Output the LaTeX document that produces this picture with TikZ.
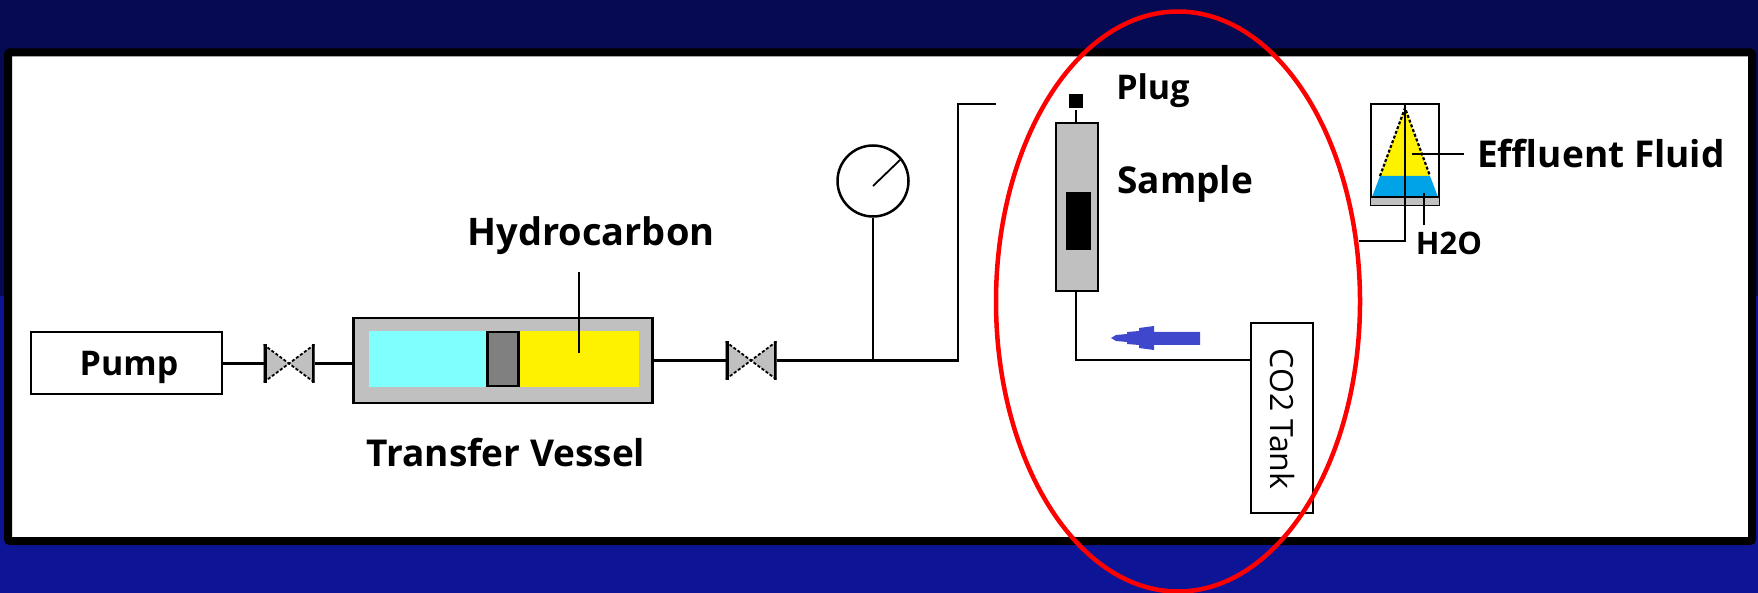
\documentclass[tikz,border=0pt]{standalone}
\usepackage{fontspec}
\setmainfont{Open Sans}
\usetikzlibrary{positioning, shapes.geometric}
\definecolor{navytop}{HTML}{050A52}
\definecolor{navybot}{HTML}{0E1496}
\definecolor{vesselgrey}{HTML}{C0C0C0}
\definecolor{watercyan}{HTML}{80FFFF}
\definecolor{oilyellow}{HTML}{FFF200}
\definecolor{h2oblue}{HTML}{00A2E8}
\definecolor{flowblue}{HTML}{3F48CC}

\begin{document}
\begin{tikzpicture}[x=1pt, y=-1pt, line width=2.5pt,
  labelnode/.style={font=\fontsize{37}{39}\selectfont\bfseries, text=black, inner sep=0pt},
  boxnode/.style={draw, fill=white, inner sep=0pt},
  greynode/.style={draw, fill=vesselgrey, inner sep=0pt},
  fillnode/.style={inner sep=0pt, outer sep=0pt},
  valvenode/.style={inner sep=0pt, outer sep=0pt, minimum width=51, minimum height=38, path picture={
    \fill[vesselgrey] (path picture bounding box.north west) -- (path picture bounding box.south east) -- (path picture bounding box.north east) -- (path picture bounding box.south west) -- cycle;
    \draw[densely dashed, line width=1.8pt] (path picture bounding box.north west) -- (path picture bounding box.south east) (path picture bounding box.north east) -- (path picture bounding box.south west);
    \draw[line width=6pt] (path picture bounding box.north west) -- (path picture bounding box.south west) (path picture bounding box.north east) -- (path picture bounding box.south east);}}]
\useasboundingbox (0,0) rectangle (1758,593);
\fill[navytop] (0,0) rectangle (1758,296);
\fill[navybot] (0,296) rectangle (1758,593);
\node[draw, fill=white, line width=8pt, rounded corners=2pt, minimum width=1744, minimum height=488.5, inner sep=0pt] at (880,296.75) (panel) {};

% pump side
\node[boxnode, minimum width=191, minimum height=62] at (126.5,363) (pump) {};
\node[labelnode, font=\fontsize{34}{36}\selectfont\bfseries] at (129,367) (pumptxt) {Pump};
\node[valvenode] at (289,363.5) (valve1) {};
\node[greynode, minimum width=299, minimum height=85] at (503,360.5) (vessel) {};
\node[fillnode, fill=watercyan, minimum width=118, minimum height=56] at (428,359) (water) {};
\node[fillnode, fill=oilyellow, minimum width=121, minimum height=56] at (578.5,359) (oil) {};
\node[draw, fill=black!50, inner sep=0pt, minimum width=31, minimum height=54] at (503,359) (piston) {};
\node[labelnode, font=\fontsize{38}{40}\selectfont\bfseries] at (591,236) (hctxt) {Hydrocarbon};
\node[labelnode] at (506,453) (tvtxt) {Transfer Vessel};
\coordinate (hctop) at (579,272);
\coordinate (hcend) at (579,353);
\draw (hctop) -- (hcend);
\draw (pump.east |- valve1) -- (valve1) -- (vessel.west |- valve1);

% line to the sample
\node[valvenode] at (751,360.5) (valve2) {};
\draw (vessel.east |- valve2) -- (valve2);
\node[draw, circle, fill=white, minimum size=71, inner sep=0pt] at (873,181) (gauge) {};
\coordinate (needleA) at (873,186);
\coordinate (needleB) at (900,160);
\draw[line width=1.8pt] (needleA) -- (needleB);
\coordinate (bendA) at (958,360.5);
\coordinate (bendB) at (958,104);
\coordinate (lineend) at (996,104);
\draw (valve2) -- (bendA) -- (bendB) -- (lineend);
\draw (gauge.south) -- (gauge.south |- valve2);

% sample column
\node[greynode, minimum width=42, minimum height=168] at (1077,207) (column) {};
\node[fill=black, inner sep=0pt, minimum width=25, minimum height=58] at (1078.5,221) (sample) {};
\node[fill=black, inner sep=0pt, minimum size=14] at (1076,101.5) (plug) {};
\draw (plug) -- (plug |- column.north);
\node[labelnode, font=\fontsize{34}{36}\selectfont\bfseries, anchor=west] at (1115,91) (plugtxt) {Plug};
\node[labelnode, anchor=west] at (1116,184) (sampletxt) {Sample};
\node[boxnode, minimum width=62, minimum height=190] at (1282,418) (tank) {};
\node[rotate=-90, font=\fontsize{32}{34}\selectfont, inner sep=0pt] at (1282,419) (tanktxt) {CO2 Tank};
\coordinate (tankin) at (1251,360);
\draw (plug |- column.south) -- (plug |- tankin) -- (tankin);
\fill[flowblue] (1200,332) -- (1154,332) -- (1154,326) -- (1139,328) -- (1139,331) -- (1127,332) -- (1127,334) -- (1116,335) -- (1111,338) -- (1116,341) -- (1127,342) -- (1127,344) -- (1139,345) -- (1139,348) -- (1154,350) -- (1154,345) -- (1200,345) -- cycle;

% effluent flask
\node[boxnode, minimum width=68, minimum height=101] at (1405,154.5) (flask) {};
\fill[vesselgrey] (1371,197) rectangle (1439,205);
\fill[oilyellow] (1405,108) -- (1380,176) -- (1430,176) -- cycle;
\fill[h2oblue] (1380,176) -- (1372,197) -- (1438,197) -- (1430,176) -- cycle;
\draw[densely dashed, line width=2.2pt] (1380,176) -- (1405,108) -- (1430,176);
\draw (1371,197) -- (1439,197);
\coordinate (outlet) at (1359,241);
\draw (flask.north) -- (flask.north |- outlet) -- (outlet);
\coordinate (efstart) at (1412,154);
\coordinate (efend) at (1464,154);
\draw (efstart) -- (efend);
\coordinate (wstart) at (1424,193);
\coordinate (wend) at (1424,225);
\draw (wstart) -- (wend);
\node[labelnode, anchor=west] at (1476,154) (eftxt) {Effluent Fluid};
\node[labelnode, font=\fontsize{31}{33}\selectfont\bfseries] at (1449,243) (wtxt) {H2O};

% red ring
\node[draw=red, ellipse, line width=4.5pt, minimum width=364, minimum height=580, inner sep=0pt] at (1178,301.5) (ring) {};
\end{tikzpicture}
\end{document}
